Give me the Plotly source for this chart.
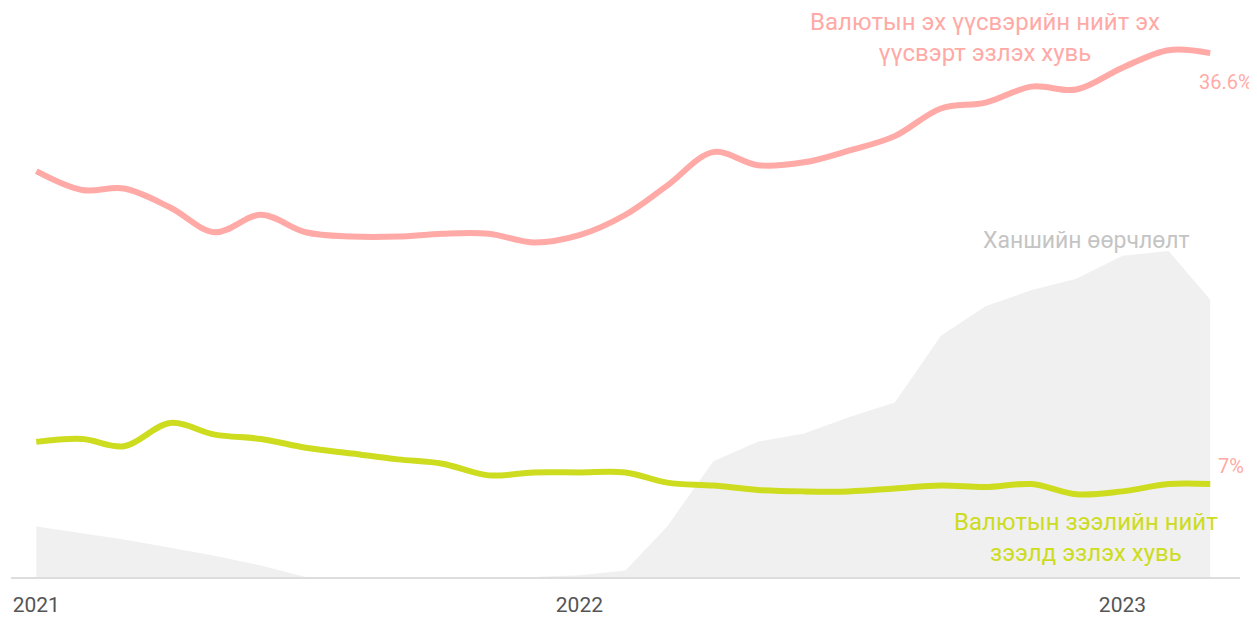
import plotly.graph_objects as go

# сар бүрийн огноо (2021.01 - 2023.03)
сарууд = [f"{2021 + i // 12}-{i % 12 + 1:02d}-01" for i in range(27)]

# валютын эх үүсвэрийн нийт эх үүсвэрт эзлэх хувь
эх_үүсвэр = [28.5, 27.2, 27.3, 26.0, 24.3, 25.5, 24.3, 24.0, 24.0, 24.2, 24.2, 23.6,
             24.1, 25.5, 27.5, 29.8, 28.9, 29.1, 29.9, 30.9, 32.8, 33.2, 34.3, 34.1,
             35.6, 36.8, 36.6]

# валютын зээлийн нийт зээлд эзлэх хувь
зээл = [9.9, 10.1, 9.6, 11.2, 10.4, 10.1, 9.5, 9.1, 8.7, 8.4, 7.6, 7.8,
        7.8, 7.8, 7.1, 6.9, 6.6, 6.5, 6.5, 6.7, 6.9, 6.8, 7.0, 6.3,
        6.5, 7.0, 7.0]

# ханшийн өөрчлөлт
ханш = [3.1, 2.7, 2.3, 1.8, 1.3, 0.7, 0.0, -0.2, -0.2, -0.2, 0.0, 0.0,
        0.1, 0.4, 3.1, 7.1, 8.3, 8.8, 9.8, 10.7, 14.8, 16.6, 17.6, 18.3,
        19.7, 20.0, 17.0]

тэнхлэг_он = ["2021-01-01", "2022-01-01", "2023-01-01"]
тэнхлэг_текст = ["2021", "2022", "2023"]

ягаан = "#ffaaa6"
ногоон = "#cddc1f"
фонт = "Roboto, sans-serif"

fig = go.Figure()

# саарал талбай доод тэнхлэг дээр, шугамууд дээр нь
fig.add_trace(go.Scatter(x=сарууд, y=ханш, mode="lines",
                         line=dict(width=0, color="#f0f0f0"),
                         fill="tozeroy", fillcolor="#f0f0f0",
                         hoverinfo="skip", showlegend=False))

fig.add_trace(go.Scatter(x=сарууд, y=эх_үүсвэр, yaxis="y2", mode="lines",
                         line=dict(color=ягаан, width=6, shape="spline", smoothing=1),
                         showlegend=False))

fig.add_trace(go.Scatter(x=сарууд, y=зээл, yaxis="y2", mode="lines",
                         line=dict(color=ногоон, width=6, shape="spline", smoothing=1),
                         showlegend=False))

# хуудасны 8px захыг тооцож хэмжээг багасгав
fig.update_layout(
    width=1249, height=610,
    margin=dict(l=3, r=17, t=0, b=41),
    plot_bgcolor="white", paper_bgcolor="white",
    font=dict(family=фонт),
    xaxis=dict(range=["2020-12-15", "2023-03-21"], showgrid=False, zeroline=False,
               showline=True, linecolor="#dddddd", linewidth=2,
               tickvals=тэнхлэг_он, ticktext=тэнхлэг_текст,
               ticks="outside", ticklen=8, tickcolor="white",
               tickfont=dict(size=21, color="#555555")),
    yaxis=dict(range=[0, 34.9], visible=False),
    yaxis2=dict(range=[0.62, 39.7], overlaying="y", visible=False),
)

тэмдэглэл = [
    dict(x=0.7925, y=0.949, text="Валютын эх үүсвэрийн нийт эх<br>үүсвэрт эзлэх хувь",
         color=ягаан, size=24, xanchor="center"),
    dict(x=1.0122, y=0.870, text="36.6%", color=ягаан, size=20, xanchor="right"),
    dict(x=0.8747, y=0.591, text="Ханшийн өөрчлөлт", color="#c4c4c4", size=23, xanchor="center"),
    dict(x=1.005, y=0.195, text="7%", color=ягаан, size=20, xanchor="right"),
    dict(x=0.8747, y=0.070, text="Валютын зээлийн нийт<br>зээлд эзлэх хувь",
         color=ногоон, size=24, xanchor="center"),
]
for t in тэмдэглэл:
    fig.add_annotation(xref="paper", yref="paper", x=t["x"], y=t["y"], text=t["text"],
                       showarrow=False, xanchor=t["xanchor"], yanchor="middle",
                       font=dict(size=t["size"], color=t["color"]))

fig.write_html("out.html")
